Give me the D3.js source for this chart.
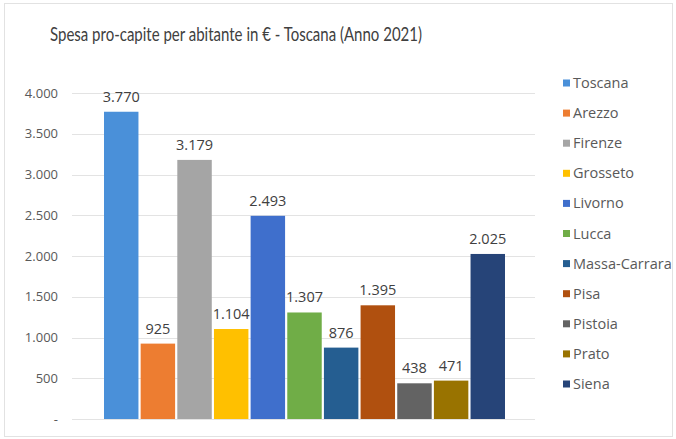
<!DOCTYPE html>
<html>
<head>
<meta charset="utf-8">
<script src="https://cdn.jsdelivr.net/npm/d3@7"></script>
<style>
  html, body { margin: 0; padding: 0; background: #fff; }
  svg { display: block; font-family: "Open Sans", "Noto Sans", sans-serif; }
</style>
</head>
<body>
<svg id="chart" width="676" height="439"></svg>
<script>
// data
const provinces = ["Toscana", "Arezzo", "Firenze", "Grosseto", "Livorno", "Lucca",
                   "Massa-Carrara", "Pisa", "Pistoia", "Prato", "Siena"];
const spesa = [3770, 925, 3179, 1104, 2493, 1307, 876, 1395, 438, 471, 2025];
const colori = ["#4a90d9", "#ed7d31", "#a5a5a5", "#ffc000", "#3f6fcc", "#70ad47",
                "#255e91", "#b0500f", "#636363", "#997300", "#264478"];
const yTicks = [0, 500, 1000, 1500, 2000, 2500, 3000, 3500, 4000];
const titolo = "Spesa pro-capite per abitante in \u20ac - Toscana (Anno 2021)";

const svg = d3.select("#chart");
const fmt = d3.formatLocale({ decimal: ",", thousands: ".", grouping: [3], currency: ["€", ""] }).format(",d");

// outer frame
svg.append("rect")
    .attr("x", 4.5).attr("y", 3.5)
    .attr("width", 668).attr("height", 433)
    .attr("fill", "#fff")
    .attr("stroke", "#e2e2e2");

const plot = { left: 72, right: 535, top: 93, bottom: 419 };

const y = d3.scaleLinear()
    .domain([0, 4000])
    .range([plot.bottom, plot.top]);

const x = d3.scaleBand()
    .domain(provinces)
    .range([104, 505])
    .paddingInner(0.06);

// gridlines
svg.append("g")
    .selectAll("line")
    .data(yTicks)
    .enter()
    .append("line")
    .attr("x1", plot.left)
    .attr("x2", plot.right)
    .attr("y1", d => Math.round(y(d)) + 0.5)
    .attr("y2", d => Math.round(y(d)) + 0.5)
    .attr("stroke", "#e3e3e3")
    .attr("stroke-width", 1);

// y axis labels
const yAxis = d3.axisLeft(y)
    .tickValues(yTicks)
    .tickSize(0)
    .tickPadding(0)
    .tickFormat(d => d === 0 ? "-" : fmt(d));

const gy = svg.append("g")
    .attr("transform", "translate(58,0)")
    .call(yAxis);
gy.select(".domain").remove();
gy.selectAll("text")
    .attr("font-size", "13px")
    .attr("fill", "#595959")
    .attr("font-family", "'Open Sans', sans-serif");

// bars
const bars = provinces.map((p, i) => ({ name: p, value: spesa[i], color: colori[i] }));

svg.append("g")
    .selectAll("rect")
    .data(bars)
    .enter()
    .append("rect")
    .attr("x", d => x(d.name))
    .attr("y", d => y(d.value))
    .attr("width", x.bandwidth())
    .attr("height", d => y(0) - y(d.value))
    .attr("fill", d => d.color);

// value labels
svg.append("g")
    .selectAll("text")
    .data(bars)
    .enter()
    .append("text")
    .attr("x", d => x(d.name) + x.bandwidth() / 2)
    .attr("y", d => y(d.value) - 10)
    .attr("text-anchor", "middle")
    .attr("font-size", "14.5px")
    .attr("fill", "#404040")
    .text(d => fmt(d.value));

// title
svg.append("text")
    .attr("x", 50)
    .attr("y", 41)
    .attr("font-family", "Lato, sans-serif")
    .attr("font-size", "19.5px")
    .attr("fill", "#404040")
    .attr("textLength", 372)
    .attr("lengthAdjust", "spacingAndGlyphs")
    .text(titolo);

// legend
const legend = svg.append("g")
    .selectAll("g")
    .data(bars)
    .enter()
    .append("g")
    .attr("transform", (d, i) => `translate(563, ${83 + i * 30.1})`);

legend.append("rect")
    .attr("x", 0).attr("y", -3.5)
    .attr("width", 7).attr("height", 7)
    .attr("fill", d => d.color);

legend.append("text")
    .attr("x", 10)
    .attr("y", 5)
    .attr("font-size", "14.5px")
    .attr("fill", "#595959")
    .text(d => d.name);
</script>
</body>
</html>
